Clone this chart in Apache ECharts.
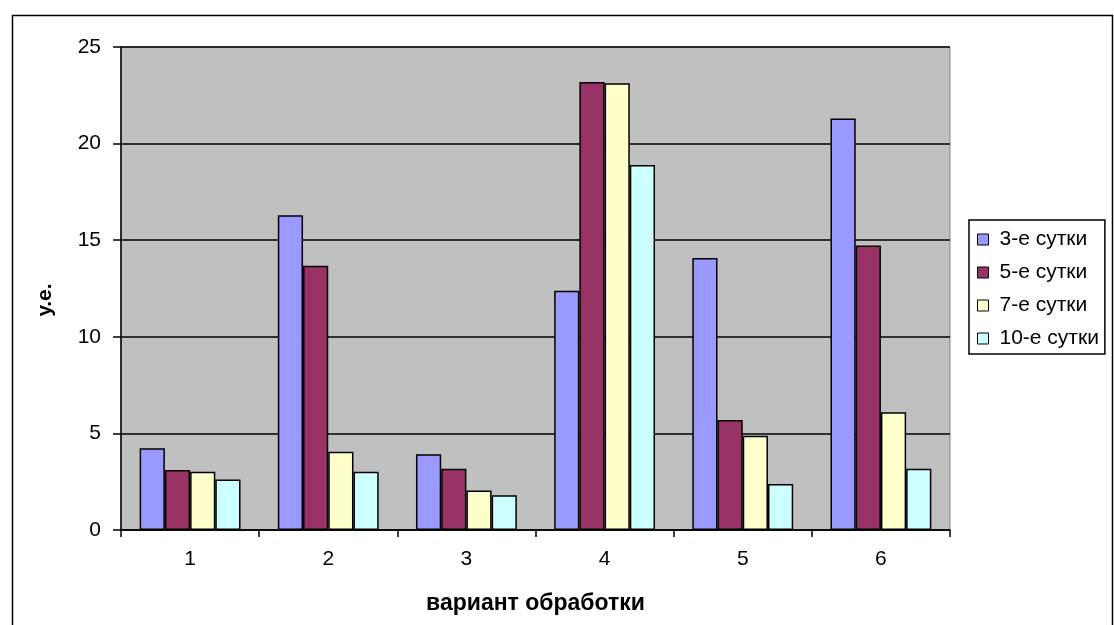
<!DOCTYPE html>
<html>
<head>
<meta charset="utf-8">
<script src="https://cdn.jsdelivr.net/npm/echarts@6/dist/echarts.min.js"></script>
<style>html,body{margin:0;padding:0;background:#fff;}#c{width:1114px;height:625px;}</style>
</head>
<body>
<div id="c"></div>
<script>
var categories = ['1', '2', '3', '4', '5', '6'];
var seriesNames = ['3-е сутки', '5-е сутки', '7-е сутки', '10-е сутки'];
var day3 = [4.23, 16.29, 3.92, 12.39, 14.08, 21.3];
var day5 = [3.1, 13.68, 3.17, 23.19, 5.69, 14.73];
var day7 = [3.02, 4.05, 2.04, 23.12, 4.88, 6.1];
var day10 = [2.62, 3.02, 1.8, 18.89, 2.38, 3.17];
var yTicks = [0, 5, 10, 15, 20, 25];
var colors = ['#9999FF', '#993366', '#FFFFCC', '#CCFFFF'];
var values = [day3, day5, day7, day10];

var chart = echarts.init(document.getElementById('c'), null, {renderer: 'canvas'});
var font = 'Arial, "Liberation Sans", sans-serif';
chart.setOption({
  animation: false,
  backgroundColor: '#fff',
  textStyle: {fontFamily: font},
  graphic: [{
    type: 'rect', left: 10, top: 13,
    shape: {width: 1100, height: 640},
    style: {fill: 'none', stroke: '#000', lineWidth: 1.5},
    silent: true, z: -10
  }, {
    type: 'text', x: 45, y: 300, rotation: Math.PI / 2,
    style: {text: 'у.е.', fill: '#000', font: 'bold 21px ' + font,
            textAlign: 'center', textVerticalAlign: 'middle'},
    silent: true
  }],
  grid: {left: 121, top: 47, width: 829, height: 483, show: true,
         backgroundColor: '#C0C0C0', borderColor: '#808080', borderWidth: 1},
  legend: {
    orient: 'vertical', left: 969, top: 220,
    padding: [9, 6, 5, 8],
    itemWidth: 11, itemHeight: 11, itemGap: 12,
    borderColor: '#000', borderWidth: 1.5, backgroundColor: '#fff',
    icon: 'rect',
    itemStyle: {borderColor: '#000', borderWidth: 1},
    textStyle: {fontSize: 21, fontFamily: font, color: '#000', padding: [0, 0, 0, 6]},
    data: seriesNames
  },
  xAxis: {
    type: 'category', data: categories,
    name: 'вариант обработки', nameLocation: 'middle', nameGap: 62,
    nameTextStyle: {fontSize: 23, fontWeight: 'bold', color: '#000', fontFamily: font},
    axisLine: {lineStyle: {color: '#000', width: 1.5}},
    axisTick: {show: true, length: 7, lineStyle: {color: '#000', width: 1.5}},
    axisLabel: {fontSize: 21, color: '#000', margin: 19, fontFamily: font},
    splitLine: {show: false}
  },
  yAxis: {
    type: 'value', min: 0, max: 25, interval: 5,
    axisLine: {show: true, lineStyle: {color: '#000', width: 1.5}},
    axisTick: {show: true, length: 8, lineStyle: {color: '#000', width: 1.5}},
    axisLabel: {fontSize: 21, color: '#000', margin: 20, fontFamily: font,
                formatter: function (v) { return yTicks.indexOf(v) >= 0 ? String(v) : ''; }},
    splitLine: {show: true, lineStyle: {color: '#000', width: 1.5}}
  },
  series: seriesNames.map(function (n, i) {
    return {
      name: n, type: 'bar', data: values[i],
      barGap: '0%', barCategoryGap: '27%',
      itemStyle: {color: colors[i], borderColor: '#000', borderWidth: 1.5}
    };
  })
});
</script>
</body>
</html>
